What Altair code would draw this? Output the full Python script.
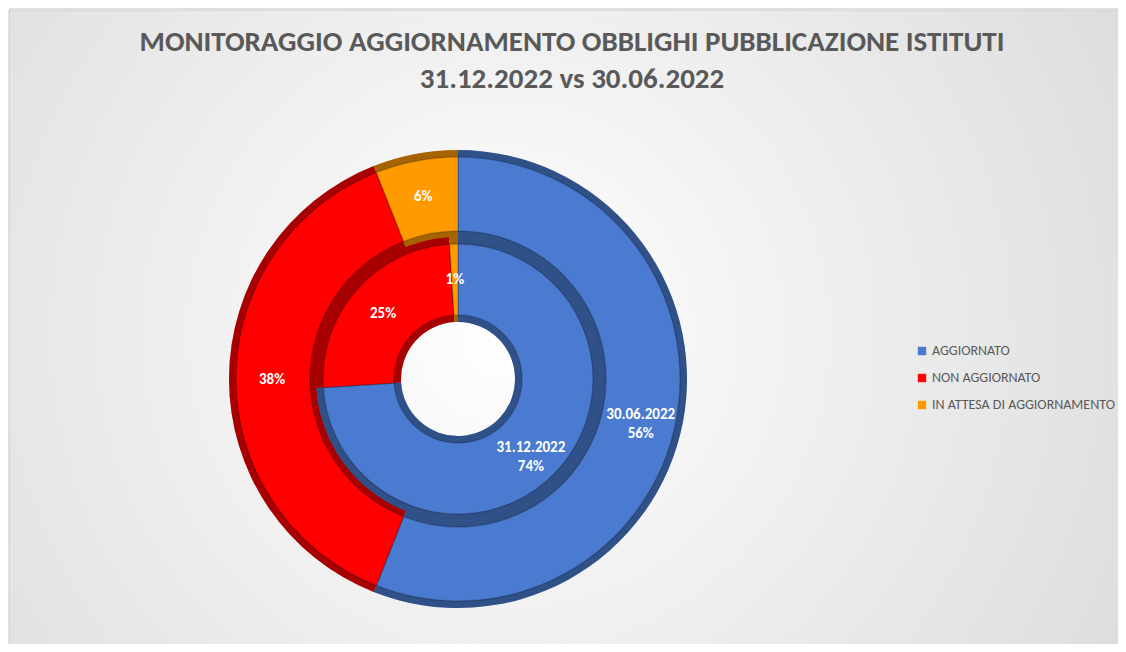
import altair as alt
import pandas as pd

categories = ["AGGIORNATO", "NON AGGIORNATO", "IN ATTESA DI AGGIORNAMENTO"]
colors = ["#4A7BD1", "#FF0000", "#FF9A00"]
outer_values = [56, 38, 6]   # 30.06.2022
inner_values = [74, 25, 1]   # 31.12.2022
outer_name = "30.06.2022"
inner_name = "31.12.2022"
title_lines = ["MONITORAGGIO AGGIORNAMENTO OBBLIGHI PUBBLICAZIONE ISTITUTI",
               "31.12.2022 vs 30.06.2022"]

W, H = 1110, 636
CX, CY = 449, 371
R_IN0, R_IN1 = 57, 142
R_OUT0, R_OUT1 = 141, 229
BEV = 7

def ring_df(values, name):
    rows = []
    for i, (c, v) in enumerate(zip(categories, values)):
        lab = f"{name}\n{v}%" if i == 0 else f"{v}%"
        rows.append({"category": c, "value": v, "idx": i, "label": lab})
    return pd.DataFrame(rows)

outer_df = ring_df(outer_values, outer_name)
inner_df = ring_df(inner_values, inner_name)

FONT = "Carlito, Lato, Open Sans, sans-serif"

color_enc = alt.Color("category:N", scale=alt.Scale(domain=categories, range=colors),
                      legend=alt.Legend(title=None, orient="none", legendX=906, legendY=336,
                                        symbolType="square", symbolSize=70,
                                        symbolStrokeWidth=0, labelFont=FONT,
                                        labelFontSize=14, labelColor="#595959",
                                        labelLimit=0, rowPadding=13, labelOffset=3))

def ring_layers(df, r0, r1, label_r):
    base = alt.Chart(df).encode(
        theta=alt.Theta("value:Q", stack=True),
        order=alt.Order("idx:Q"),
        x=alt.value(CX), y=alt.value(CY),
    )
    full = base.mark_arc(innerRadius=r0, outerRadius=r1).encode(color=color_enc)
    shade = base.mark_arc(innerRadius=r0, outerRadius=r1, color="black", opacity=0.35)
    inset = base.mark_arc(innerRadius=r0 + BEV, outerRadius=r1 - BEV,
                          stroke="black", strokeOpacity=0.2, strokeWidth=1.5).encode(color=color_enc)
    text = base.mark_text(radius=label_r, color="white", font=FONT, fontWeight="bold",
                          fontSize=15, lineBreak="\n", lineHeight=19).encode(text="label:N")
    return [full, shade, inset, text]

bg = alt.Chart(alt.Data(values=[{}])).mark_rect(
    color=alt.RadialGradient(gradient="radial", x1=0.45, y1=0.5, r1=0.0,
                             x2=0.45, y2=0.5, r2=0.75,
                             stops=[alt.GradientStop(offset=0, color="#ffffff"),
                                    alt.GradientStop(offset=1, color="#d6d6d6")]),
    stroke="#c8c8c8", strokeWidth=1
).encode(x=alt.value(0), x2=alt.value(W), y=alt.value(2), y2=alt.value(H + 10))

title_df = pd.DataFrame({"t": title_lines, "yy": [34, 71]})
title = alt.Chart(title_df).mark_text(font=FONT, fontWeight="bold", fontSize=29,
                                      color="#595959", align="center", baseline="middle").encode(
    x=alt.value(563), y=alt.Y("yy:Q", scale=None), text="t:N")

layers = [bg, title] + ring_layers(outer_df, R_OUT0, R_OUT1, 186) + ring_layers(inner_df, R_IN0, R_IN1, 100)

chart = alt.layer(*layers).properties(
    width=W, height=H, padding=0,
    autosize=alt.AutoSizeParams(type="fit", contains="padding"),
).configure_view(stroke=None).configure(background="white")

chart.save("out.html", embed_options={"renderer": "svg", "actions": False})
